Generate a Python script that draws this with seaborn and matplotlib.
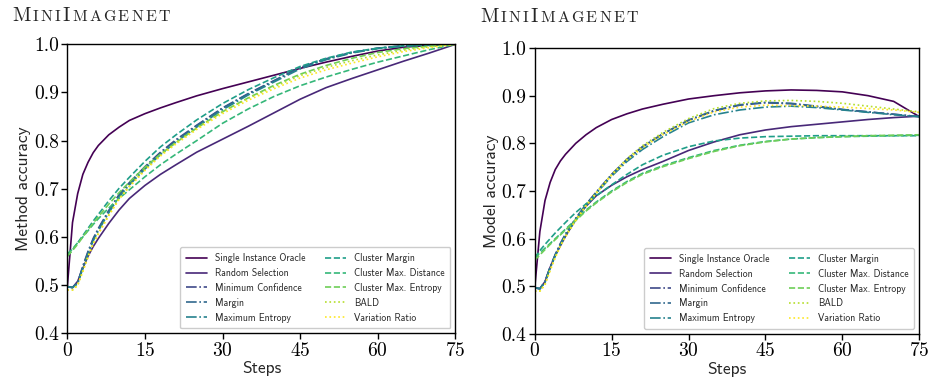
import numpy as np
import pandas as pd
import seaborn as sns
from matplotlib import pyplot as plt

# acquisition steps at which accuracy is read
steps = [0, 1, 2, 3, 4, 5, 6, 8, 10, 12, 15, 18, 21, 25, 30, 35, 40, 45, 50, 55, 60, 65, 70, 75]

methods = ["Single Instance Oracle", "Random Selection", "Minimum Confidence", "Margin",
           "Maximum Entropy", "Cluster Margin", "Cluster Max. Distance",
           "Cluster Max. Entropy", "BALD", "Variation Ratio"]

# left panel: method accuracy
m_oracle = [0.497, 0.63, 0.69, 0.73, 0.755, 0.775, 0.79, 0.812, 0.828, 0.842, 0.856, 0.868, 0.879, 0.893, 0.908, 0.922, 0.936, 0.95, 0.963, 0.975, 0.986, 0.994, 0.998, 1.0]
m_random = [0.497, 0.495, 0.508, 0.535, 0.56, 0.58, 0.597, 0.628, 0.656, 0.68, 0.707, 0.73, 0.75, 0.776, 0.803, 0.83, 0.858, 0.886, 0.91, 0.929, 0.947, 0.965, 0.982, 1.0]
m_minconf = [0.497, 0.495, 0.505, 0.54, 0.57, 0.597, 0.618, 0.655, 0.688, 0.713, 0.746, 0.776, 0.802, 0.832, 0.868, 0.898, 0.925, 0.952, 0.97, 0.983, 0.992, 0.997, 0.999, 1.0]
m_margin = [0.497, 0.495, 0.505, 0.538, 0.568, 0.595, 0.616, 0.653, 0.686, 0.711, 0.744, 0.774, 0.8, 0.831, 0.867, 0.897, 0.924, 0.951, 0.969, 0.983, 0.992, 0.997, 0.999, 1.0]
m_maxent = [0.497, 0.495, 0.503, 0.535, 0.565, 0.592, 0.613, 0.65, 0.683, 0.708, 0.741, 0.771, 0.797, 0.828, 0.864, 0.895, 0.922, 0.949, 0.968, 0.982, 0.991, 0.996, 0.999, 1.0]
m_cmargin = [0.56, 0.573, 0.588, 0.603, 0.618, 0.633, 0.647, 0.675, 0.701, 0.724, 0.757, 0.787, 0.812, 0.843, 0.877, 0.906, 0.931, 0.954, 0.971, 0.984, 0.992, 0.997, 0.999, 1.0]
m_cmaxdist = [0.565, 0.575, 0.588, 0.6, 0.613, 0.626, 0.638, 0.66, 0.68, 0.698, 0.725, 0.75, 0.772, 0.8, 0.836, 0.866, 0.892, 0.914, 0.932, 0.948, 0.963, 0.976, 0.989, 1.0]
m_cmaxent = [0.56, 0.572, 0.585, 0.6, 0.615, 0.629, 0.642, 0.668, 0.692, 0.714, 0.745, 0.772, 0.796, 0.826, 0.86, 0.889, 0.915, 0.938, 0.956, 0.971, 0.983, 0.991, 0.996, 1.0]
m_bald = [0.49, 0.49, 0.5, 0.53, 0.56, 0.587, 0.608, 0.646, 0.68, 0.706, 0.74, 0.77, 0.796, 0.826, 0.86, 0.888, 0.912, 0.935, 0.952, 0.966, 0.978, 0.988, 0.995, 1.0]
m_varratio = [0.49, 0.49, 0.5, 0.528, 0.558, 0.585, 0.606, 0.644, 0.678, 0.704, 0.738, 0.768, 0.793, 0.823, 0.856, 0.884, 0.908, 0.93, 0.947, 0.961, 0.974, 0.985, 0.993, 1.0]

# right panel: model accuracy
a_oracle = [0.497, 0.615, 0.68, 0.718, 0.745, 0.763, 0.777, 0.8, 0.818, 0.833, 0.85, 0.862, 0.872, 0.882, 0.893, 0.9, 0.906, 0.91, 0.912, 0.911, 0.908, 0.9, 0.888, 0.856]
a_random = [0.497, 0.495, 0.51, 0.54, 0.565, 0.585, 0.605, 0.64, 0.668, 0.69, 0.712, 0.73, 0.745, 0.762, 0.785, 0.803, 0.818, 0.828, 0.835, 0.84, 0.845, 0.85, 0.854, 0.857]
a_minconf = [0.497, 0.495, 0.51, 0.54, 0.567, 0.59, 0.61, 0.643, 0.672, 0.698, 0.735, 0.767, 0.793, 0.82, 0.848, 0.868, 0.88, 0.885, 0.883, 0.877, 0.871, 0.866, 0.861, 0.856]
a_margin = [0.497, 0.495, 0.51, 0.54, 0.566, 0.589, 0.609, 0.642, 0.671, 0.697, 0.734, 0.766, 0.792, 0.82, 0.849, 0.869, 0.881, 0.886, 0.884, 0.878, 0.871, 0.866, 0.861, 0.856]
a_maxent = [0.497, 0.495, 0.508, 0.538, 0.564, 0.587, 0.607, 0.64, 0.669, 0.695, 0.731, 0.762, 0.787, 0.814, 0.843, 0.86, 0.87, 0.876, 0.878, 0.875, 0.87, 0.865, 0.86, 0.856]
a_cmargin = [0.56, 0.575, 0.588, 0.6, 0.612, 0.623, 0.634, 0.655, 0.673, 0.69, 0.713, 0.735, 0.755, 0.775, 0.793, 0.805, 0.811, 0.814, 0.815, 0.816, 0.816, 0.816, 0.816, 0.816]
a_cmaxdist = [0.56, 0.57, 0.58, 0.59, 0.6, 0.61, 0.62, 0.64, 0.66, 0.677, 0.7, 0.72, 0.737, 0.753, 0.77, 0.785, 0.796, 0.804, 0.809, 0.812, 0.814, 0.815, 0.816, 0.817]
a_cmaxent = [0.555, 0.566, 0.577, 0.588, 0.598, 0.608, 0.618, 0.638, 0.658, 0.675, 0.698, 0.718, 0.735, 0.751, 0.768, 0.783, 0.795, 0.803, 0.809, 0.812, 0.814, 0.816, 0.817, 0.818]
a_bald = [0.49, 0.49, 0.505, 0.535, 0.562, 0.586, 0.606, 0.64, 0.67, 0.697, 0.735, 0.768, 0.795, 0.823, 0.852, 0.873, 0.884, 0.889, 0.89, 0.888, 0.884, 0.878, 0.872, 0.866]
a_varratio = [0.49, 0.49, 0.503, 0.533, 0.56, 0.584, 0.604, 0.638, 0.668, 0.695, 0.733, 0.765, 0.791, 0.818, 0.846, 0.866, 0.876, 0.88, 0.879, 0.878, 0.876, 0.873, 0.87, 0.865]

method_acc = [m_oracle, m_random, m_minconf, m_margin, m_maxent, m_cmargin, m_cmaxdist, m_cmaxent, m_bald, m_varratio]
model_acc = [a_oracle, a_random, a_minconf, a_margin, a_maxent, a_cmargin, a_cmaxdist, a_cmaxent, a_bald, a_varratio]

styles = ["-", "-", "-.", "-.", "-.", "--", "--", "--", ":", ":"]
colors = [plt.cm.viridis(v) for v in np.linspace(0, 1, 10)]

sns.set_style("ticks")
plt.rcParams["font.family"] = ["cmr10", "DejaVu Serif"]
plt.rcParams["axes.formatter.use_mathtext"] = True

fig = plt.figure(figsize=(9.3, 3.84), dpi=100)
ax1 = fig.add_axes([0.0724, 0.132, 0.4172, 0.7526])
ax2 = fig.add_axes([0.575, 0.1302, 0.4135, 0.7448])


def draw(ax, series, ylabel):
    for name, vals, c, ls in zip(methods, series, colors, styles):
        df = pd.DataFrame({"step": steps, "acc": vals})
        sns.lineplot(data=df, x="step", y="acc", ax=ax, color=c, linestyle=ls, lw=1.2, label=name)
    ax.set_xlim(0, 75)
    ax.set_ylim(0.4, 1.0)
    ax.set_xticks([0, 15, 30, 45, 60, 75])
    ax.set_yticks([0.4, 0.5, 0.6, 0.7, 0.8, 0.9, 1.0])
    ax.set_yticklabels(["0.4", "0.5", "0.6", "0.7", "0.8", "0.9", "1.0"])
    ax.tick_params(labelsize=14, length=4, width=1, pad=2, colors="black")
    for sp in ax.spines.values():
        sp.set_color("black")
        sp.set_linewidth(1)
    ax.set_xlabel("Steps", family="cmss10", fontsize=12.5, labelpad=1)
    ax.set_ylabel(ylabel, family="cmss10", fontsize=12.5, labelpad=2)
    ax.legend(ncol=2, loc="lower right", prop={"family": "cmss10", "size": 7},
              handlelength=2.2, columnspacing=2.0, labelspacing=0.5, borderpad=0.6,
              framealpha=1, edgecolor="0.8")


draw(ax1, method_acc, "Method accuracy")
draw(ax2, model_acc, "Model accuracy")

# small-caps title "MiniImagenet", drawn letter by letter
renderer = fig.canvas.get_renderer()


def smallcaps(x, y, parts, gap=2.2):
    for word, size in parts:
        for ch in word:
            t = fig.text(x, y, ch, fontsize=size, family="cmr10", va="baseline", ha="left")
            x += (t.get_window_extent(renderer).width + gap) / fig.bbox.width


title_parts = [("M", 14.5), ("INI", 11.5), ("I", 14.5), ("MAGENET", 11.5)]
smallcaps(12 / 930, 1 - 21 / 384, title_parts)
smallcaps(480 / 930, 1 - 21.5 / 384, title_parts)

fig.savefig("out.png", dpi=100)
